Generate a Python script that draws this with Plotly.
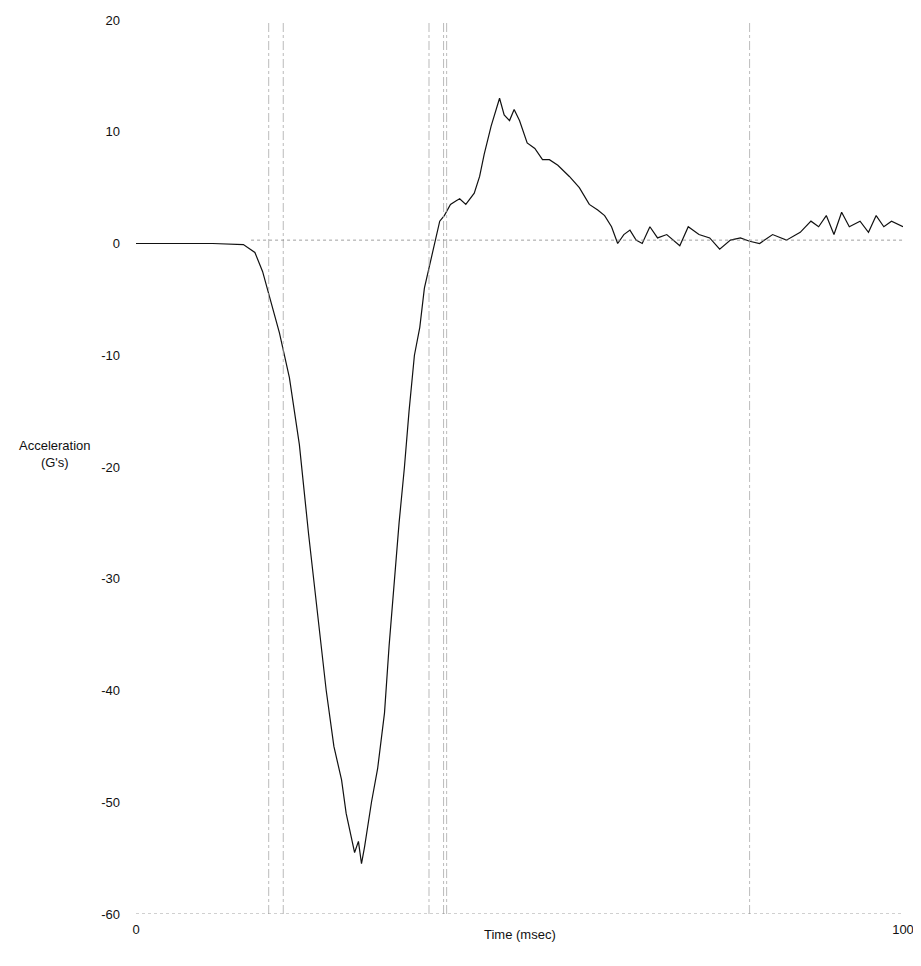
import plotly.graph_objects as go

time_ms = [0, 5, 10, 14, 15.5, 16.5, 17.5, 18.7, 20, 21.3, 22.5, 23.5, 24.8, 25.8, 26.8, 27.4, 28.0, 28.5, 29.0, 29.4, 29.8, 30.7, 31.5, 32.4, 33.0, 33.7, 34.3, 35.0, 35.6, 36.3, 37.0, 37.6, 38.3, 39.0, 39.6, 40.2, 41.0, 41.7, 42.2, 43.0, 44.1, 44.8, 45.4, 46.3, 47.0, 47.4, 48.0, 48.7, 49.3, 50.0, 51.0, 52.0, 53.0, 53.9, 55.0, 56.5, 57.8, 59.1, 60.2, 61.1, 62.0, 62.8, 63.6, 64.4, 65.2, 66.0, 67.0, 68.0, 69.2, 70.9, 72.0, 73.4, 74.8, 76.1, 77.5, 78.8, 80.0, 81.3, 83.0, 84.8, 86.6, 88.0, 89.0, 90.0, 91.0, 92.0, 93.0, 94.4, 95.5, 96.5, 97.5, 98.5, 100]
accel_g = [0, 0, 0, -0.1, -0.8, -2.5, -5, -8, -12, -18, -26, -32, -40, -45, -48, -51, -53, -54.5, -53.5, -55.5, -54, -50, -47, -42, -36, -30, -25, -20, -15, -10, -7.5, -4, -2, 0, 2, 2.5, 3.5, 3.8, 4, 3.5, 4.5, 6, 8, 10.5, 12, 13, 11.5, 11, 12, 11, 9, 8.5, 7.5, 7.5, 7, 6, 5, 3.5, 3, 2.5, 1.5, 0, 0.8, 1.2, 0.3, 0, 1.5, 0.5, 0.8, -0.2, 1.5, 0.8, 0.5, -0.5, 0.3, 0.5, 0.2, 0, 0.8, 0.3, 1, 2, 1.5, 2.5, 0.8, 2.8, 1.5, 2.0, 1.0, 2.5, 1.5, 2.0, 1.5]

x_ticks = [0, 100]
y_ticks = [20, 10, 0, -10, -20, -30, -40, -50, -60]
y_tick_text = ["20", "10", "0", "-10", "-20", "-30", "-40", "-50", "-60"]
ref_lines = [17.3, 19.2, 38.2, 40.1, 40.5, 80.0]

fig = go.Figure()
fig.add_trace(go.Scatter(x=time_ms, y=accel_g, mode="lines",
                         line=dict(color="#111111", width=1.2), showlegend=False))
for v in ref_lines:
    fig.add_shape(type="line", x0=v, x1=v, y0=-60, y1=20, xref="x", yref="y",
                  line=dict(color="#aaaaaa", width=0.8, dash="dashdot"))
fig.add_shape(type="line", x0=15, x1=100, y0=0.3, y1=0.3, xref="x", yref="y",
              line=dict(color="#888888", width=0.8, dash="dot"))
fig.add_shape(type="line", x0=0, x1=100, y0=-60, y1=-60, xref="x", yref="y",
              line=dict(color="#888888", width=0.8, dash="dot"))

fig.add_annotation(text="Acceleration<br>(G's)", xref="x domain", yref="y domain",
                   x=-0.105, y=0.515, xanchor="center", yanchor="middle", showarrow=False,
                   font=dict(size=13, color="#111", family="Liberation Sans"))
fig.add_annotation(text="Time (msec)", xref="x domain", yref="y domain", x=0.5, y=-0.012,
                   yanchor="top", showarrow=False,
                   font=dict(size=13, color="#111", family="Liberation Sans"))

fig.update_layout(
    width=921, height=966, plot_bgcolor="white", paper_bgcolor="white",
    margin=dict(l=128, r=26, t=12, b=60, autoexpand=False),
    font=dict(family="Liberation Sans", size=13, color="#111"),
    xaxis=dict(range=[0, 100], tickvals=x_ticks, showgrid=False, zeroline=False,
               showline=False, ticks="", ticklabelstandoff=6, automargin=False),
    yaxis=dict(range=[-60, 20], tickvals=y_ticks, ticktext=y_tick_text, showgrid=False,
               zeroline=False, showline=False, ticks="", ticklabelstandoff=15,
               automargin=False),
)
fig.write_html("out.html")
